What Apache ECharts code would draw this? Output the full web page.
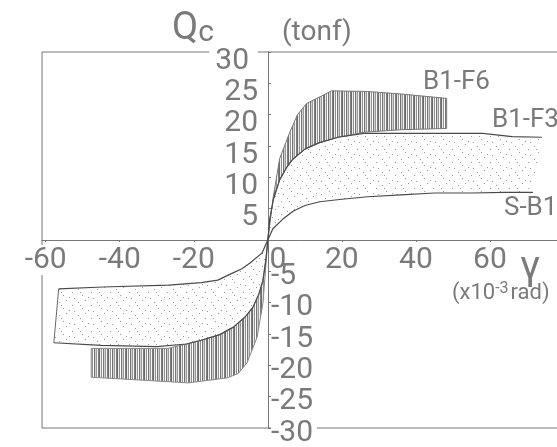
<!DOCTYPE html>
<html>
<head>
<meta charset="utf-8">
<script src="https://cdn.jsdelivr.net/npm/echarts@6/dist/echarts.min.js"></script>
</head>
<body style="margin:0;background:#fff;">
<div id="container" style="width:557px;height:447px;"></div>
<script type="text/javascript">
    // curves (gamma x10^-3 rad, Qc tonf)
    var sB1 = [[-56.5, -7.8], [-44.6, -7.5], [-26.8, -7.2], [-18, -6.8], [-13.5, -6.4], [-10, -5.4], [-7, -4.6],
        [-4.9, -3.7], [-1.6, -2.1], [0, 0], [1.35, 1.8], [4, 3.3], [6.8, 4.6], [10, 5.5], [14, 6.1], [20, 6.5],
        [27, 6.9], [36, 7.2], [45, 7.5], [55, 7.5], [64, 7.6], [71.6, 7.6]];
    var b1F3 = [[-57.8, -16.4], [-45, -16.8], [-30, -17], [-22, -16.6], [-18, -16], [-13, -15.1], [-9.3, -13.9],
        [-6, -12.2], [-4, -10.7], [-2.4, -8.6], [-1.3, -6.4], [-0.5, -3], [0, 0], [0.5, 3.2], [1.5, 6.5],
        [3.2, 9.6], [5, 11.5], [6.6, 12.8], [10, 14.5], [13.8, 15.5], [19, 16.4], [26, 17], [45, 17], [58, 17],
        [66, 16.5], [74, 16.4]];
    var f6PosTop = [[0, 0], [1.5, 7], [3.2, 13], [5.8, 17], [8, 20], [10.5, 21.8], [14.6, 23], [17.2, 23.8],
        [27, 23.7], [36, 23.3], [48.3, 22.6]];
    var f6PosBottom = [[48.3, 17.8], [36, 17.6], [26, 17.2]];
    var f6NegBottom = [[0, 0], [-1.3, -10], [-2.9, -15.5], [-5.6, -19.6], [-8, -21.3], [-10.9, -22],
        [-21.5, -22.8], [-35.8, -22.3], [-47.7, -21.9]];
    var f6NegTop = [[-47.7, -17.3], [-27, -17.3]];
    var xTicks = [-60, -40, -20, 0, 20, 40, 60];

    var FONT = '"Liberation Sans Narrow", "Roboto", sans-serif';
    var INK = '#7a7a7a';
    var AX = '#777';

    // textures
    function hatchCanvas() {
        var c = document.createElement('canvas');
        c.width = 9; c.height = 5;
        var g = c.getContext('2d');
        var cols = [0.8, 0.1, 0.6, 0.0, 0.75, 0.25, 0.55, 0.05, 0.7];
        for (var i = 0; i < cols.length; i++) {
            g.fillStyle = 'rgba(70,70,70,' + cols[i] + ')';
            g.fillRect(i, 0, 1, 5);
        }
        return c;
    }
    function dotCanvas() {
        var c = document.createElement('canvas');
        c.width = 19; c.height = 13;
        var g = c.getContext('2d');
        var dots = [[2, 3], [9, 1], [15, 6], [6, 9], [12, 11], [17, 12], [4, 6]];
        g.fillStyle = 'rgba(120,120,120,0.75)';
        dots.forEach(function (d) { g.fillRect(d[0], d[1], 1, 1); });
        return c;
    }
    var hatch = { image: hatchCanvas(), repeat: 'repeat' };
    var dots = { image: dotCanvas(), repeat: 'repeat' };

    var dottedBand = sB1.concat(b1F3.slice().reverse());
    var hatchPos = f6PosTop.concat(f6PosBottom,
        b1F3.filter(function (p) { return p[0] >= 0 && p[0] < 26; }).reverse());
    var hatchNeg = f6NegBottom.concat(f6NegTop,
        b1F3.filter(function (p) { return p[0] > -27 && p[0] <= 0; }));
    var bands = [
        { pts: dottedBand, fill: dots, stroke: null },
        { pts: hatchPos, fill: hatch, stroke: '#777' },
        { pts: hatchNeg, fill: hatch, stroke: '#888' }
    ];

    // labels that sit on the frame get a white box so the frame line breaks there
    function boxed(pad) {
        return { backgroundColor: '#fff', padding: pad, fontFamily: FONT, fontSize: 30, color: INK };
    }

    // grid 42..564 x 52..428 ; zero lines sit at x=268, y=240
    var myChart = echarts.init(document.getElementById('container'));
    var option = {
        animation: false,
        grid: {
            left: 42, top: 52, width: 522, height: 376, containLabel: false, outerBoundsMode: 'none',
            show: true, borderColor: AX, borderWidth: 1, backgroundColor: 'transparent'
        },
        xAxis: {
            type: 'value', min: -61, max: 80, position: 'bottom', offset: -188,
            axisLine: { show: true, onZero: false, lineStyle: { color: AX } },
            axisTick: { show: true, length: 2, customValues: xTicks, lineStyle: { color: AX } },
            splitLine: { show: false },
            axisLabel: {
                customValues: xTicks, margin: 5, color: INK, fontFamily: FONT, fontSize: 30, hideOverlap: false,
                formatter: function (v) {
                    if (v === 0) return '{z|0}';
                    if (v === -60) return '{w|-60}';
                    return String(v);
                },
                rich: {
                    z: { padding: [0, 0, 0, 20], fontFamily: FONT, fontSize: 30, color: INK },
                    w: boxed([0, 0, 0, 0])
                }
            }
        },
        yAxis: [{
            type: 'value', min: -30, max: 30, interval: 5, position: 'left', offset: -226,
            axisLine: { show: true, onZero: false, lineStyle: { color: AX } },
            axisTick: { show: true, length: 3, inside: true, lineStyle: { color: AX } },
            splitLine: { show: false },
            axisLabel: {
                margin: 10, color: INK, fontFamily: FONT, fontSize: 30,
                padding: [18, 0, 0, 0], hideOverlap: false, showMinLabel: true, showMaxLabel: true,
                formatter: function (v) {
                    if (v === 30) return '{w|30}';
                    return v > 0 ? String(v) : '';
                },
                rich: { w: boxed([0, 9, 0, 6]) }
            }
        }, {
            type: 'value', min: -30, max: 30, interval: 5, position: 'left', offset: -226,
            axisLine: { show: false, onZero: false },
            axisTick: { show: false },
            splitLine: { show: false },
            axisLabel: {
                inside: true, margin: 3, color: INK, fontFamily: FONT, fontSize: 30,
                padding: [10, 0, 0, 0], hideOverlap: false, showMinLabel: true, showMaxLabel: true,
                formatter: function (v) {
                    if (v === -30) return '{w|-30}';
                    return v < 0 ? String(v) : '';
                },
                rich: { w: boxed([0, 4, 0, 0]) }
            }
        }],
        graphic: [
            { type: 'text', left: 172, top: 10, style: { text: '{q|Q}{c|c}', rich: {
                q: { fontFamily: FONT, fontSize: 38, fill: INK, verticalAlign: 'bottom' },
                c: { fontFamily: FONT, fontSize: 30, fill: INK, verticalAlign: 'bottom' } } } },
            { type: 'text', left: 282, top: 19, style: { text: '(tonf)', font: '28px ' + FONT, fill: INK } },
            { type: 'text', left: 423, top: 69, style: { text: 'B1-F6', font: '26px ' + FONT, fill: INK } },
            { type: 'text', left: 492, top: 107, style: { text: 'B1-F3', font: '26px ' + FONT, fill: INK } },
            { type: 'text', left: 504, top: 195, style: { text: 'S-B1', font: '26px ' + FONT, fill: INK } },
            { type: 'text', left: 520, top: 249, style: { text: 'γ', font: '40px ' + FONT, fill: INK } },
            { type: 'text', left: 452, top: 281, style: { text: '(x10{s|-3}rad)', font: '22px ' + FONT, fill: INK,
                rich: { s: { fontFamily: FONT, fontSize: 16, fill: INK, verticalAlign: 'top', padding: [0, 2, 8, 0] } } } }
        ],
        series: [{
            type: 'custom',
            clip: true,
            data: bands.map(function (b, i) { return [i, 0]; }),
            renderItem: function (params, api) {
                var b = bands[params.dataIndex];
                return {
                    type: 'polygon',
                    shape: { points: b.pts.map(function (p) { return api.coord(p); }) },
                    style: { fill: b.fill, stroke: b.stroke, lineWidth: 1 }
                };
            },
            z: 1
        }, {
            type: 'line', data: sB1, showSymbol: false, z: 3,
            lineStyle: { color: '#4a4a4a', width: 1.2 }
        }, {
            type: 'line', data: b1F3, showSymbol: false, z: 3,
            lineStyle: { color: '#4a4a4a', width: 1.2 }
        }, {
            type: 'line', data: [sB1[0], b1F3[0]], showSymbol: false, z: 3,
            lineStyle: { color: '#666', width: 1 }
        }]
    };
    myChart.setOption(option);
</script>
</body>
</html>
